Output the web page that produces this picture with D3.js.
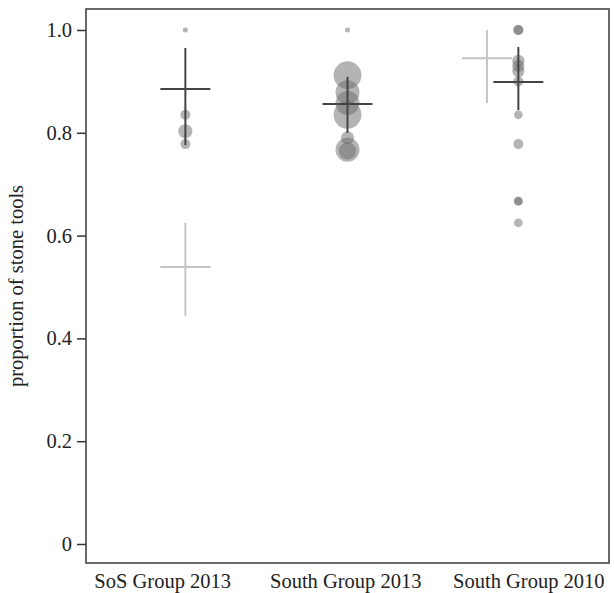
<!DOCTYPE html>
<html><head><meta charset="utf-8">
<script src="https://cdn.jsdelivr.net/npm/d3@7"></script>
<style>body{margin:0;background:#fff}svg{display:block}text{font-family:"Liberation Serif","Times New Roman",serif;fill:#222}</style>
</head><body>
<svg id="c" width="614" height="593"></svg>
<script>
const categories = ["SoS Group 2013", "South Group 2013", "South Group 2010"];
const yTicks = [0, 0.2, 0.4, 0.6, 0.8, 1.0];
const yTickLabels = ["0", "0.2", "0.4", "0.6", "0.8", "1.0"];

// individual observations: group, proportion, sample size (circle area)
const pointGroup = ["SoS Group 2013","SoS Group 2013","SoS Group 2013","SoS Group 2013",
  "South Group 2013","South Group 2013","South Group 2013","South Group 2013","South Group 2013","South Group 2013","South Group 2013","South Group 2013",
  "South Group 2010","South Group 2010","South Group 2010","South Group 2010","South Group 2010","South Group 2010","South Group 2010","South Group 2010","South Group 2010","South Group 2010","South Group 2010"];
const pointValue = [1.0, 0.835, 0.803, 0.778,
  1.0, 0.912, 0.879, 0.858, 0.835, 0.79, 0.767, 0.765,
  1.0, 1.0, 0.94, 0.93, 0.92, 0.9, 0.835, 0.778, 0.667, 0.667, 0.625];
const pointN = [1, 4, 8, 4,
  1, 31, 23, 23, 31, 7, 23, 12,
  4, 4, 6, 6, 6, 4, 3, 4, 3, 3, 3];

// summary crosses: mean with interval, two series
const seriesNames = ["light", "dark"];
const lightMean = [0.539, null, 0.945];
const lightLow  = [0.444, null, 0.858];
const lightHigh = [0.625, null, 1.0];
const darkMean  = [0.885, 0.856, 0.899];
const darkLow   = [0.776, 0.800, 0.844];
const darkHigh  = [0.965, 0.909, 0.967];

const W = 614, H = 593;
const m = {l: 86, r: 5, t: 9, b: 30};
const svg = d3.select("#c");
const markX = d3.scaleLinear().domain([0.5, 3.5]).range([m.l, W - m.r]);
// horizontal positions (in category units) of labels and marks per group
const labelPos = [0.94, 1.99, 3.04];
const markPos = {points: [1.07, 2.0, 2.98], light: [1.07, null, 2.8], dark: [1.07, 2.0, 2.98]};
const y = d3.scaleLinear().domain([0, 1]).range([544, 30]);
const r = d3.scaleSqrt().domain([0, 1]).range([0, 2.5]);
const FS = 20.5;

// y axis ticks
const ya = svg.append("g").attr("transform", `translate(${m.l},0)`)
  .call(d3.axisLeft(y).tickValues(yTicks).tickFormat((d, i) => yTickLabels[i]).tickSize(9).tickPadding(5));
ya.select(".domain").remove();
ya.selectAll(".tick line").attr("stroke", "#333").attr("stroke-width", 1.5);
ya.selectAll(".tick text").attr("font-size", FS).attr("font-family", "Liberation Serif, serif").attr("fill", "#222");

// x labels
svg.append("g").selectAll("text").data(categories).join("text")
  .attr("x", (d, i) => markX(labelPos[i])).attr("y", 588)
  .attr("text-anchor", "middle").attr("font-size", FS).text(d => d);

// points
const gi = c => categories.indexOf(c);
svg.append("g").selectAll("circle").data(pointValue).join("circle")
  .attr("cx", (d, i) => markX(markPos.points[gi(pointGroup[i])]))
  .attr("cy", d => y(d))
  .attr("r", (d, i) => r(pointN[i]))
  .attr("fill", "#6a6a6a").attr("fill-opacity", 0.5);

// crosses
function crosses(mean, lo, hi, pos, color) {
  const g = svg.append("g");
  mean.forEach((mv, i) => {
    if (mv == null) return;
    const cx = markX(pos[i]);
    g.append("line").attr("x1", cx).attr("x2", cx).attr("y1", y(hi[i])).attr("y2", y(lo[i]))
      .attr("stroke", color).attr("stroke-width", 2);
    g.append("line").attr("x1", cx - 25).attr("x2", cx + 25).attr("y1", y(mv)).attr("y2", y(mv))
      .attr("stroke", color).attr("stroke-width", 2);
  });
}
crosses(lightMean, lightLow, lightHigh, markPos.light, "#c4c4c4");
crosses(darkMean, darkLow, darkHigh, markPos.dark, "#444");

// frame
svg.append("rect").attr("x", m.l).attr("y", m.t).attr("width", W - m.r - m.l).attr("height", 563 - m.t)
  .attr("fill", "none").attr("stroke", "#444").attr("stroke-width", 1.6);

// y title
svg.append("text").attr("transform", `translate(23,${(m.t + 563) / 2}) rotate(-90)`)
  .attr("text-anchor", "middle").attr("font-size", FS).text("proportion of stone tools");
</script>
</body></html>
